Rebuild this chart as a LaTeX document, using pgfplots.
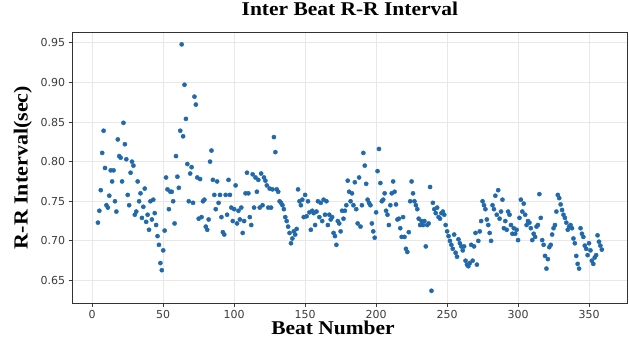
\documentclass[border=0pt]{standalone}
\usepackage{fontspec}
\usepackage{pgfplots}
\pgfplotsset{compat=1.18}
\setmainfont{Liberation Serif}
\newfontfamily\tickfont{DejaVu Sans}
\newfontfamily\labfont[FakeStretch=1.1]{Liberation Serif}
\definecolor{dotblue}{RGB}{31,105,172}
\definecolor{gridgray}{RGB}{232,232,232}
\definecolor{tickgray}{RGB}{60,60,60}
\begin{document}
\begin{tikzpicture}
\begin{axis}[
  name=ax,
  scale only axis,
  width=554pt, height=271pt,
  xmin=-13.75, xmax=376.75,
  ymin=0.6214, ymax=0.9636,
  xtick={0,50,100,150,200,250,300,350},
  ytick={0.65,0.70,0.75,0.80,0.85,0.90,0.95},
  yticklabel style={/pgf/number format/fixed, /pgf/number format/fixed zerofill, /pgf/number format/precision=2},
  /pgf/number format/assume math mode=true,
  ticklabel style={font=\tickfont\fontsize{11}{13}\selectfont, text=tickgray},
  tick align=outside,
  major tick length=4pt,
  tick style={tickgray, line width=0.8pt},
  xtick pos=left, ytick pos=left,
  grid=major,
  major grid style={gridgray, line width=0.8pt},
  axis line style={black!80, line width=1pt},
  title={Inter Beat R-R Interval},
  title style={at={(axis description cs:0.5,1.0406)}, anchor=base, font=\labfont\bfseries\fontsize{19.5}{22}\selectfont},
  xlabel={Beat Number},
  xlabel style={at={(axis description cs:0.4696,-0.117)}, anchor=base, font=\labfont\bfseries\fontsize{19.5}{22}\selectfont},
  ylabel={R-R Interval(sec)},
  ylabel style={at={(axis description cs:-0.0812,0.5)}, anchor=base, font=\labfont\bfseries\fontsize{20}{22}\selectfont},
]
\addplot[only marks, mark=*, mark size=2.1pt, mark options={fill=dotblue, draw=dotblue}] table {
x y
4 0.723
5 0.738
6 0.764
7 0.811
8 0.839
9 0.792
10 0.745
11 0.742
12 0.757
13 0.789
14 0.775
15 0.789
16 0.750
17 0.737
18 0.828
19 0.807
20 0.805
21 0.775
22 0.849
23 0.822
24 0.803
25 0.758
26 0.745
27 0.786
28 0.800
29 0.795
30 0.733
31 0.737
32 0.775
33 0.750
34 0.760
35 0.729
36 0.743
37 0.766
38 0.724
39 0.733
40 0.714
41 0.750
42 0.727
43 0.752
44 0.735
45 0.720
46 0.706
47 0.695
48 0.672
49 0.663
50 0.688
51 0.713
52 0.780
53 0.765
54 0.740
55 0.762
56 0.762
57 0.750
58 0.722
59 0.807
60 0.781
61 0.767
62 0.839
63 0.948
64 0.832
65 0.897
66 0.854
67 0.797
68 0.750
69 0.785
70 0.793
71 0.748
72 0.882
73 0.872
74 0.780
75 0.728
76 0.778
77 0.730
78 0.750
79 0.752
80 0.718
81 0.714
82 0.727
83 0.800
84 0.814
85 0.777
86 0.758
87 0.740
88 0.775
89 0.748
90 0.758
91 0.730
92 0.711
93 0.708
94 0.758
95 0.733
96 0.777
97 0.758
98 0.742
99 0.725
100 0.740
101 0.770
102 0.722
103 0.738
104 0.727
105 0.742
106 0.710
107 0.725
108 0.760
109 0.786
110 0.760
111 0.730
112 0.720
113 0.784
114 0.742
115 0.780
116 0.762
117 0.777
118 0.742
119 0.785
120 0.745
121 0.780
122 0.776
123 0.770
124 0.742
125 0.766
126 0.742
127 0.765
128 0.831
129 0.812
130 0.765
131 0.762
132 0.750
133 0.748
134 0.745
135 0.740
136 0.730
137 0.725
138 0.718
139 0.710
140 0.697
141 0.703
142 0.712
143 0.708
144 0.715
145 0.765
146 0.750
147 0.745
148 0.752
149 0.730
150 0.758
151 0.731
152 0.750
153 0.736
154 0.714
155 0.738
156 0.735
157 0.720
158 0.737
159 0.750
160 0.730
161 0.748
162 0.725
163 0.752
164 0.733
165 0.750
166 0.720
167 0.733
168 0.727
169 0.730
170 0.710
171 0.706
172 0.695
173 0.725
174 0.722
175 0.712
176 0.738
177 0.728
178 0.738
179 0.745
180 0.776
181 0.762
182 0.750
183 0.760
184 0.745
185 0.774
186 0.740
187 0.722
188 0.780
189 0.718
190 0.745
191 0.811
192 0.795
193 0.772
194 0.752
195 0.748
196 0.745
197 0.722
198 0.712
199 0.704
200 0.736
201 0.788
202 0.816
203 0.773
204 0.750
205 0.752
206 0.760
207 0.738
208 0.733
209 0.720
210 0.745
211 0.760
212 0.775
213 0.762
214 0.746
215 0.727
216 0.728
217 0.716
218 0.705
219 0.730
220 0.705
221 0.690
222 0.686
223 0.711
224 0.750
225 0.775
226 0.760
227 0.750
228 0.745
229 0.740
230 0.728
231 0.720
232 0.725
233 0.720
234 0.725
235 0.693
236 0.720
237 0.722
238 0.768
239 0.637
240 0.748
241 0.740
242 0.735
243 0.742
244 0.730
245 0.728
246 0.735
247 0.737
248 0.733
249 0.720
250 0.712
251 0.706
252 0.700
253 0.695
254 0.690
255 0.708
256 0.685
257 0.680
258 0.702
259 0.697
260 0.693
261 0.688
262 0.693
263 0.675
264 0.670
265 0.668
266 0.672
267 0.695
268 0.675
269 0.693
270 0.710
271 0.670
272 0.700
273 0.712
274 0.725
275 0.750
276 0.745
277 0.740
278 0.727
279 0.720
280 0.710
281 0.700
282 0.745
283 0.740
284 0.757
285 0.733
286 0.764
287 0.728
288 0.737
289 0.752
290 0.716
291 0.725
292 0.714
293 0.737
294 0.733
295 0.720
296 0.709
297 0.716
298 0.709
299 0.714
300 0.701
301 0.729
302 0.752
303 0.737
304 0.747
305 0.733
306 0.720
307 0.725
308 0.723
309 0.716
310 0.701
311 0.709
312 0.705
313 0.718
314 0.720
315 0.759
316 0.729
317 0.701
318 0.695
319 0.681
320 0.665
321 0.677
322 0.692
323 0.695
324 0.708
325 0.716
326 0.720
327 0.737
328 0.758
329 0.754
330 0.746
331 0.739
332 0.733
333 0.729
334 0.723
335 0.714
336 0.718
337 0.720
338 0.716
339 0.703
340 0.697
341 0.681
342 0.671
343 0.665
344 0.716
345 0.709
346 0.705
347 0.694
348 0.690
349 0.682
350 0.697
351 0.688
352 0.675
353 0.671
354 0.679
355 0.682
356 0.707
357 0.699
358 0.694
359 0.689
};
\end{axis}
\pgfresetboundingbox
\useasboundingbox ([xshift=-72.7pt,yshift=-41.7pt]ax.south west) rectangle ([xshift=2pt,yshift=32pt]ax.north east);
\end{tikzpicture}
\end{document}
